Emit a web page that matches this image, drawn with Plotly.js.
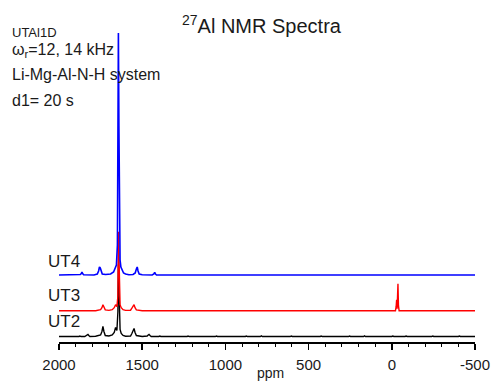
<!DOCTYPE html>
<html>
<head>
<meta charset="utf-8">
<script src="https://cdn.plot.ly/plotly-3.0.1.min.js"></script>
<style>html,body{margin:0;padding:0;background:#fff;}#chart{width:495px;height:382px;}</style>
</head>
<body>
<div id="chart"></div>
<script>
// x-axis ticks (ppm)
const tickVals = [2000, 1500, 1000, 500, 0, -500];
const tickText = ['2000', '1500', '1000', '500', '0', '-500'];

// UT4 (blue) spectrum: chemical shift (ppm) and intensity
const ut4Ppm = [2000, 1900, 1872, 1866, 1862, 1858, 1852,
  1790, 1770, 1762, 1757, 1752, 1747, 1740,
  1720, 1690, 1672, 1662, 1655, 1649, 1646, 1643, 1640, 1637, 1633, 1628, 1620, 1612, 1600, 1580,
  1555, 1542, 1535, 1530, 1525, 1518, 1500,
  1440, 1430, 1425, 1420, 1414, 1300, -500];
const ut4Int = [0, 0, 0.5, 1.5, 3, 1.5, 0.3,
  0, 1, 4, 8, 7, 3, 1,
  0.5, 1, 3, 7, 10, 30, 120, 242, 150, 40, 15, 8, 4, 2, 1, 0.3,
  0.5, 2, 6, 8, 4, 1, 0.2,
  0, 1, 2.5, 1, 0, 0, 0];

// UT3 (red) spectrum
const ut3Ppm = [2000, 1958, 1952, 1946, 1890, 1884, 1878,
  1780, 1750, 1742, 1736, 1730, 1722,
  1700, 1680, 1668, 1660, 1652, 1646, 1643, 1640, 1637, 1633, 1626, 1615, 1600,
  1570, 1562, 1555, 1549, 1543, 1535,
  1500, 1470, 1464, 1458, 1390, 1384, 1378, 1300, 1294, 1288, 1210, 1204, 1198, 1140, 1134, 1128,
  1060, 1054, 1048, 990, 984, 978, 920, 914, 908, 850, 844, 838, 760, 754, 748, 680, 674, 668,
  590, 584, 578, 500, 494, 488, 420, 414, 408, 340, 334, 328, 250, 244, 238, 160, 154, 148, 80, 74, 68,
  0, -22, -26, -29, -32, -35, -37, -40, -44, -60,
  -100, -106, -112, -170, -176, -182, -240, -246, -252, -300, -306, -312, -370, -376, -382, -430, -436, -442, -480, -486, -492, -500];
const ut3Int = [0, 0, 0.6, 0, 0, 0.5, 0,
  0, 1, 3, 6, 3, 0.8,
  0.3, 1, 3, 6, 4, 15, 79, 50, 15, 6, 3, 1, 0.3,
  0.5, 2.5, 5, 6, 3, 0.8,
  0, 0, 0.5, 0, 0, 0.6, 0, 0, 0.4, 0, 0, 0.6, 0, 0, 0.5, 0,
  0, 0.6, 0, 0, 0.4, 0, 0, 0.6, 0, 0, 0.5, 0, 0, 0.6, 0, 0, 0.4, 0,
  0, 0.5, 0, 0, 0.6, 0, 0, 0.4, 0, 0, 0.6, 0, 0, 0.5, 0, 0, 0.6, 0, 0, 0.4, 0,
  0, 0, 4, 11, 2, 10, 27, 5, 0, 0,
  0, 0.5, 0, 0, 0.6, 0, 0, 0.4, 0, 0, 0.6, 0, 0, 0.5, 0, 0, 0.6, 0, 0, 0.4, 0, 0];

// UT2 (black) spectrum
const ut2Ppm = [2000, 1950, 1944, 1938, 1880, 1874, 1868,
  1845, 1836, 1830, 1826, 1821, 1814,
  1780, 1750, 1742, 1736, 1730, 1722,
  1700, 1680, 1668, 1660, 1652, 1646, 1643, 1640, 1637, 1633, 1626, 1615, 1600,
  1570, 1562, 1555, 1549, 1543, 1535,
  1500, 1470, 1464, 1459, 1453, 1446,
  1400, 1394, 1388, 1320, 1314, 1308, 1230, 1224, 1218, 1150, 1144, 1138, 1060, 1054, 1048,
  970, 964, 958, 880, 874, 868, 790, 784, 778, 700, 694, 688, 610, 604, 598, 520, 514, 508,
  430, 424, 418, 350, 344, 338, 260, 254, 248, 170, 164, 158, 90, 84, 78, 0, -6, -12,
  -80, -86, -92, -160, -166, -172, -240, -246, -252, -320, -326, -332, -400, -406, -412, -470, -476, -482, -500];
const ut2Int = [0, 0, -0.5, 0, 0, 0.5, 0,
  0, 1, 2, 2, 1, 0,
  0.3, 1.5, 5, 10, 5, 1,
  0.5, 1.5, 4, 9, 6, 25, 72, 45, 18, 7, 3, 1, 0.3,
  0.5, 3, 6, 8, 4, 1,
  0, 0.5, 1.5, 2, 1, 0,
  0, 0.5, 0, 0, -0.4, 0, 0, 0.5, 0, 0, -0.4, 0, 0, 0.5, 0,
  0, -0.4, 0, 0, 0.5, 0, 0, 0.6, 0, 0, -0.4, 0, 0, 0.5, 0, 0, -0.4, 0,
  0, 0.5, 0, 0, -0.4, 0, 0, 0.5, 0, 0, 0.6, 0, 0, -0.4, 0, 0, 0.5, 0,
  0, 0.5, 0, 0, -0.4, 0, 0, 0.5, 0, 0, -0.4, 0, 0, 0.5, 0, 0, -0.4, 0, 0];

// stacking offsets of each spectrum
const offsets = {ut2: 5.5, ut3: 31.3, ut4: 67};

const FONT = 'Liberation Sans, Arial, sans-serif';
const shift = (arr, off) => arr.map(v => v + off);

const traces = [
  {x: ut2Ppm, y: shift(ut2Int, offsets.ut2), type: 'scatter', mode: 'lines',
   line: {color: '#000000', width: 1.4}, hoverinfo: 'skip'},
  {x: ut3Ppm, y: shift(ut3Int, offsets.ut3), type: 'scatter', mode: 'lines',
   line: {color: '#ff0000', width: 1.4}, hoverinfo: 'skip'},
  {x: ut4Ppm, y: shift(ut4Int, offsets.ut4), type: 'scatter', mode: 'lines',
   line: {color: '#0000ff', width: 1.6}, hoverinfo: 'skip'}
];

const ann = (text, x, y, size, xanchor) => ({
  text: text, xref: 'paper', yref: 'paper', x: x, y: y,
  xanchor: xanchor, yanchor: 'middle', showarrow: false,
  font: {family: FONT, size: size, color: '#1a1a1a'}
});

const layout = {
  width: 495, height: 382,
  margin: {l: 59, r: 20, t: 30, b: 40, pad: 0},
  paper_bgcolor: '#ffffff', plot_bgcolor: '#ffffff',
  showlegend: false,
  xaxis: {
    range: [2000, -500], autorange: false,
    tickvals: tickVals, ticktext: tickText,
    ticks: 'outside', ticklen: 6, tickwidth: 1.5, tickcolor: '#000',
    minor: {dtick: 100, ticks: 'outside', ticklen: 3, tickwidth: 1, tickcolor: '#000'},
    showline: true, linecolor: '#000', linewidth: 2,
    showgrid: false, zeroline: false,
    ticklabelstandoff: 2,
    tickfont: {family: FONT, size: 15, color: '#1a1a1a'}
  },
  yaxis: {range: [0, 312], autorange: false, visible: false, showgrid: false, zeroline: false},
  annotations: [
    ann('<sup>27</sup>Al NMR Spectra', 0.4888, 1.017, 20, 'center'),
    ann('UTAl1D', -0.118, 0.993, 13, 'left'),
    ann('ω<sub>r</sub>=12, 14 kHz', -0.118, 0.934, 16, 'left'),
    ann('Li-Mg-Al-N-H system', -0.118, 0.8558, 16, 'left'),
    ann('d1= 20 s', -0.118, 0.7756, 16, 'left'),
    ann('UT4', -0.031, 0.258, 17, 'left'),
    ann('UT3', -0.031, 0.1506, 17, 'left'),
    ann('UT2', -0.031, 0.0657, 17, 'left'),
    ann('ppm', 0.5084, -0.098, 14, 'center')
  ]
};

Plotly.newPlot('chart', traces, layout, {staticPlot: true, displayModeBar: false});
</script>
</body>
</html>
